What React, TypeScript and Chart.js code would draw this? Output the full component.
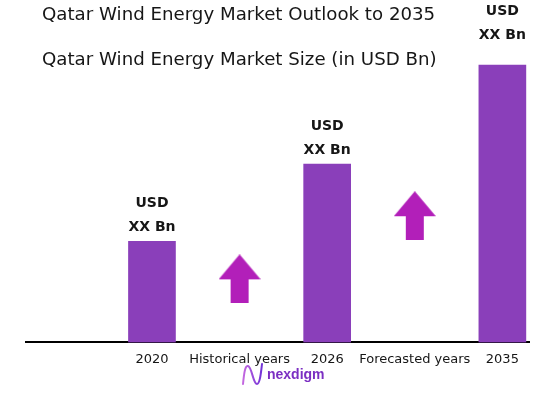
import React, { useEffect, useRef } from 'react';
import { Chart, registerables } from 'chart.js';

Chart.register(...registerables);

// ---- data ----
const categories = ['2020', 'Historical years', '2026', 'Forecasted years', '2035'];
const barPositions = [0, 2, 4];
const barValues = [1.01, 1.78, 2.77];
const barLabelTop = ['USD', 'USD', 'USD'];
const barLabelBottom = ['XX Bn', 'XX Bn', 'XX Bn'];
const arrowPositions = [1, 3];
const arrowValues = [0.635, 1.265];
const chartTitle = 'Qatar Wind Energy Market Outlook to 2035';
const chartSubtitle = 'Qatar Wind Energy Market Size (in USD Bn)';
const brandName = 'nexdigm';

const BAR_COLOR = '#8a3fba';
const ARROW_COLOR = '#b21fb9';
const TEXT_COLOR = '#161616';

function makeArrow(color: string) {
  const c = document.createElement('canvas');
  c.width = 42;
  c.height = 49;
  const g = c.getContext('2d')!;
  g.fillStyle = color;
  g.beginPath();
  g.moveTo(21, 0);
  g.lineTo(42, 25);
  g.lineTo(30, 25);
  g.lineTo(30, 49);
  g.lineTo(12, 49);
  g.lineTo(12, 25);
  g.lineTo(0, 25);
  g.closePath();
  g.fill();
  return c;
}

const barLabelPlugin = {
  id: 'barLabels',
  afterDatasetsDraw(chart: any, _args: any, opts: any) {
    const meta = chart.getDatasetMeta(0);
    const ctx = chart.ctx;
    ctx.save();
    ctx.font = 'bold 14px "DejaVu Sans"';
    ctx.fillStyle = TEXT_COLOR;
    ctx.textAlign = 'center';
    ctx.textBaseline = 'middle';
    meta.data.forEach((bar: any, i: number) => {
      const lift = (opts.lift && opts.lift[i]) || 0;
      ctx.fillText(barLabelTop[i], bar.x, bar.y - 38 - lift);
      ctx.fillText(barLabelBottom[i], bar.x, bar.y - 14 - lift);
    });
    ctx.restore();
  },
};

const headerPlugin = {
  id: 'header',
  afterDraw(chart: any) {
    const ctx = chart.ctx;
    ctx.save();
    ctx.font = '18.2px "DejaVu Sans"';
    ctx.fillStyle = TEXT_COLOR;
    ctx.textAlign = 'left';
    ctx.textBaseline = 'alphabetic';
    ctx.fillText(chartTitle, 42, 20);
    ctx.fillText(chartSubtitle, 42, 65);

    // brand logo
    const grad = ctx.createLinearGradient(242, 0, 263, 0);
    grad.addColorStop(0, '#c86be0');
    grad.addColorStop(1, '#6d2fd6');
    ctx.strokeStyle = grad;
    ctx.lineWidth = 2;
    ctx.lineCap = 'round';
    ctx.beginPath();
    ctx.moveTo(243, 384);
    ctx.bezierCurveTo(244, 374, 245, 365, 248, 366);
    ctx.bezierCurveTo(252, 367, 253, 384, 257, 384);
    ctx.bezierCurveTo(260, 384, 261, 372, 262, 364);
    ctx.stroke();
    ctx.font = 'bold 14px "Liberation Sans"';
    ctx.fillStyle = '#7b2fc2';
    ctx.fillText(brandName, 267, 379);
    ctx.restore();
  },
};

export default function App() {
  const ref = useRef<HTMLCanvasElement | null>(null);

  useEffect(() => {
    if (!ref.current) return;
    const arrow = makeArrow(ARROW_COLOR);
    const chart = new Chart(ref.current, {
      type: 'bar',
      data: {
        datasets: [
          {
            type: 'bar',
            data: barPositions.map((x, i) => ({ x, y: barValues[i] })),
            backgroundColor: BAR_COLOR,
            borderWidth: 0,
            barThickness: 47,
          } as any,
          {
            type: 'scatter',
            data: arrowPositions.map((x, i) => ({ x, y: arrowValues[i] })),
            pointStyle: arrow,
            pointRadius: 5,
            pointHoverRadius: 5,
            backgroundColor: ARROW_COLOR,
          } as any,
        ],
      },
      options: {
        responsive: false,
        animation: false,
        events: [],
        layout: { padding: { left: 26, right: 25, top: 42, bottom: 18 } },
        plugins: {
          legend: { display: false },
          tooltip: { enabled: false },
          title: { display: false },
          barLabels: { lift: [0, 0, 16] },
        } as any,
        scales: {
          x: {
            type: 'linear',
            offset: false,
            bounds: 'data',
            min: -1.438,
            max: 4.304,
            z: 1,
            grid: { display: false, drawTicks: false, offset: false },
            border: { display: true, color: '#000', width: 2 },
            afterBuildTicks: (scale: any) => {
              scale.ticks = categories.map((_, i) => ({ value: i }));
            },
            ticks: {
              autoSkip: false,
              maxRotation: 0,
              minRotation: 0,
              padding: 9,
              color: TEXT_COLOR,
              font: { family: '"DejaVu Sans"', size: 13 },
              callback: (v: any) => categories[v as number] ?? '',
            },
          },
          y: {
            display: false,
            min: 0,
            max: 3,
          },
        },
      },
      plugins: [barLabelPlugin, headerPlugin],
    });
    return () => chart.destroy();
  }, []);

  return (
    <div style={{ position: 'fixed', left: 0, top: 0, width: 554, height: 394, background: '#fff' }}>
      <canvas ref={ref} width={554} height={394} style={{ display: 'block' }} />
    </div>
  );
}
